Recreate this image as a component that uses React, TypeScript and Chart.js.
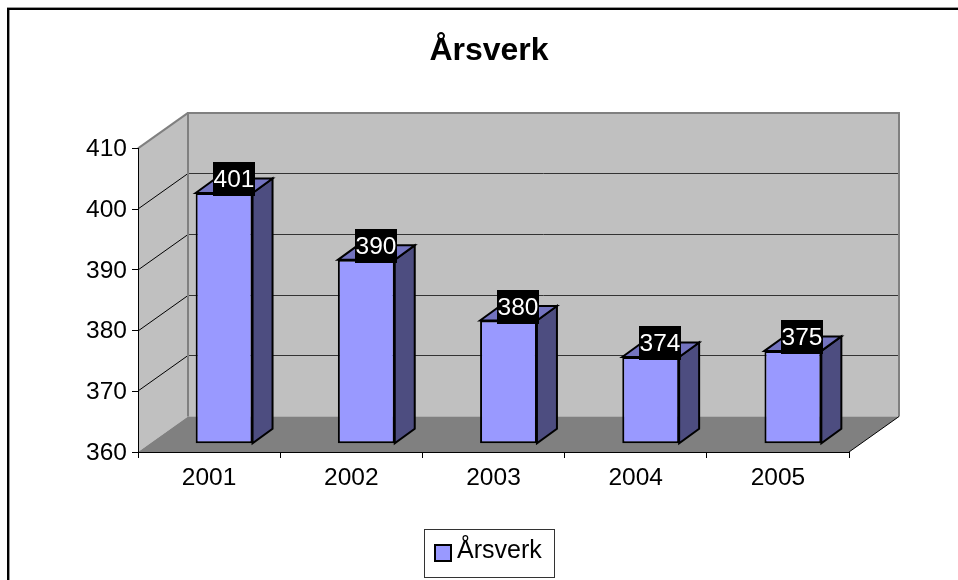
import React, { useEffect, useRef } from "react";
import { Chart, registerables } from "chart.js";

Chart.register(...registerables);

const categories = ["2001", "2002", "2003", "2004", "2005"];
const seriesName = "Årsverk";
const values = [401, 390, 380, 374, 375];
const axisMin = 360;
const axisMax = 410;
const axisStep = 10;
const barBase = 359.8;

const FONT = '"Liberation Sans", Arial, sans-serif';
const BAR = "#9999FF";
const BAR_SIDE = "#4D4D80";
const BAR_TOP = "#7373BF";
const WALL = "#C0C0C0";
const FLOOR = "#808080";

const WALL_DX = 50;
const WALL_DY = -35.5;
const BAR_DX = 15;
const BAR_DY = -10;
const SIDE_DX = 20;
const SIDE_DY = -14.5;

const poly = (ctx: CanvasRenderingContext2D, pts: number[][], fill: string | null, stroke: string | null, lw = 2) => {
  ctx.beginPath();
  pts.forEach((p, i) => (i ? ctx.lineTo(p[0], p[1]) : ctx.moveTo(p[0], p[1])));
  ctx.closePath();
  if (fill) {
    ctx.fillStyle = fill;
    ctx.fill();
  }
  if (stroke) {
    ctx.strokeStyle = stroke;
    ctx.lineWidth = lw;
    ctx.lineJoin = "miter";
    ctx.stroke();
  }
};

const line = (ctx: CanvasRenderingContext2D, x0: number, y0: number, x1: number, y1: number, color: string, lw: number) => {
  ctx.beginPath();
  ctx.moveTo(x0, y0);
  ctx.lineTo(x1, y1);
  ctx.strokeStyle = color;
  ctx.lineWidth = lw;
  ctx.stroke();
};

const box3d = {
  id: "box3d",
  beforeDraw(chart: any) {
    const { ctx, chartArea: a, scales } = chart;
    const y = scales.y;
    ctx.save();
    ctx.fillStyle = "#fff";
    ctx.fillRect(0, 0, chart.width, chart.height);
    // outer frame: only top and left edges fall inside the picture
    ctx.fillStyle = "#999";
    ctx.fillRect(7, 7, chart.width - 7, 1);
    ctx.fillRect(9, 10, 1, chart.height - 10);
    ctx.fillStyle = "#000";
    ctx.fillRect(7, 8, chart.width - 7, 2);
    ctx.fillRect(7, 8, 2, chart.height - 8);

    const l = a.left, r = a.right, t = a.top, b = a.bottom;
    // walls
    poly(ctx, [[l, t], [l + WALL_DX, t + WALL_DY], [l + WALL_DX, b + WALL_DY], [l, b]], WALL, null);
    poly(ctx, [[l + WALL_DX, t + WALL_DY], [r + WALL_DX, t + WALL_DY], [r + WALL_DX, b + WALL_DY], [l + WALL_DX, b + WALL_DY]], WALL, null);
    // gridlines follow the value scale across both walls
    for (let v = axisMin + axisStep; v < axisMax; v += axisStep) {
      const py = y.getPixelForValue(v);
      const by = Math.floor(py + WALL_DY) + 0.5;
      line(ctx, l, Math.round(py), l + WALL_DX, by, "#000", 1);
      line(ctx, l + WALL_DX, by, r + WALL_DX, by, "#333", 1);
    }
    // floor
    poly(ctx, [[l, b], [l + WALL_DX, b + WALL_DY], [r + WALL_DX, b + WALL_DY], [r, b]], FLOOR, null);
    // wall edges
    line(ctx, l, t, l + WALL_DX, t + WALL_DY, FLOOR, 2);
    line(ctx, l + WALL_DX - 1, t + WALL_DY, r + WALL_DX + 1, t + WALL_DY, FLOOR, 2);
    line(ctx, l + WALL_DX, t + WALL_DY, l + WALL_DX, b + WALL_DY, FLOOR, 2);
    line(ctx, r + WALL_DX, t + WALL_DY, r + WALL_DX, b + WALL_DY, FLOOR, 2);
    line(ctx, r, b, r + WALL_DX, b + WALL_DY, "#000", 1);
    ctx.restore();
  },
  beforeDatasetsDraw(chart: any) {
    const { ctx } = chart;
    ctx.save();
    chart.getDatasetMeta(0).data.forEach((bar: any) => {
      const p = bar.getProps(["x", "y", "base", "width"], true);
      const xl = p.x - p.width / 2 + BAR_DX;
      const xr = p.x + p.width / 2 + BAR_DX;
      const yt = p.y + BAR_DY;
      const yb = p.base + BAR_DY;
      poly(ctx, [[xr, yt], [xr + SIDE_DX, yt + SIDE_DY], [xr + SIDE_DX, yb + SIDE_DY], [xr, yb]], BAR_SIDE, "#000", 2);
      poly(ctx, [[xl, yt], [xl + SIDE_DX, yt + SIDE_DY], [xr + SIDE_DX, yt + SIDE_DY], [xr, yt]], BAR_TOP, "#000", 2);
    });
    ctx.restore();
  },
  beforeDatasetDraw(chart: any) {
    chart.ctx.save();
    chart.ctx.translate(BAR_DX, BAR_DY);
  },
  afterDatasetDraw(chart: any) {
    chart.ctx.restore();
  },
  afterDatasetsDraw(chart: any) {
    const { ctx } = chart;
    ctx.save();
    ctx.font = `24.5px ${FONT}`;
    ctx.textAlign = "center";
    ctx.textBaseline = "middle";
    chart.getDatasetMeta(0).data.forEach((bar: any, i: number) => {
      const p = bar.getProps(["x", "y"], true);
      const cx = Math.round(p.x + BAR_DX + 9.5);
      const cy = Math.round(p.y + BAR_DY - 14);
      ctx.fillStyle = "#000";
      ctx.fillRect(cx - 21, cy - 17, 42, 34);
      ctx.fillStyle = "#fff";
      ctx.fillText(String(values[i]), cx, cy + 1);
    });
    ctx.restore();
  },
  afterDraw(chart: any) {
    // legend box, centred under the plot like the title
    const { ctx } = chart;
    const left = 424, top = 529, w = 130, h = 48;
    ctx.save();
    ctx.fillStyle = "#fff";
    ctx.fillRect(left, top, w, h);
    ctx.strokeStyle = "#333";
    ctx.lineWidth = 1;
    ctx.strokeRect(left + 0.5, top + 0.5, w, h);
    ctx.fillStyle = BAR;
    ctx.fillRect(434, 544, 17, 17);
    ctx.strokeStyle = "#000";
    ctx.lineWidth = 2;
    ctx.strokeRect(435, 545, 16, 16);
    ctx.fillStyle = "#000";
    ctx.font = `25px ${FONT}`;
    ctx.textAlign = "left";
    ctx.textBaseline = "alphabetic";
    ctx.fillText(seriesName, 457, 558);
    ctx.restore();
  },
};

export default function App() {
  const ref = useRef<HTMLCanvasElement | null>(null);
  useEffect(() => {
    const chart = new Chart(ref.current as HTMLCanvasElement, {
      type: "bar",
      data: {
        labels: categories,
        datasets: [
          {
            label: seriesName,
            data: values,
            base: barBase,
            backgroundColor: BAR,
            borderColor: "#000",
            borderWidth: 2,
            borderSkipped: false,
            categoryPercentage: 1,
            barPercentage: 0.4,
            clip: false as any,
          },
        ],
      },
      options: {
        responsive: false,
        animation: false,
        layout: { padding: { left: 20, right: 0, top: 0, bottom: 0 } },
        plugins: {
          legend: { display: false },
          tooltip: { enabled: false },
          title: {
            display: true,
            text: seriesName,
            color: "#000",
            font: { family: FONT, size: 32, weight: "bold" },
            padding: { top: 32, bottom: 78 },
          },
        },
        scales: {
          x: {
            type: "category",
            afterFit: (s: any) => { s.height = 128; },
            border: { display: true, color: "#000", width: 1 },
            grid: { drawOnChartArea: false, drawTicks: true, tickLength: 6, color: "#000" },
            ticks: { color: "#000", font: { family: FONT, size: 24.5 }, padding: 6, maxRotation: 0 },
          },
          y: {
            type: "linear",
            min: axisMin,
            max: axisMax,
            afterFit: (s: any) => { s.width = 118; },
            border: { display: true, color: "#000", width: 1 },
            grid: { drawOnChartArea: false, drawTicks: true, tickLength: 6, color: "#000" },
            ticks: { stepSize: axisStep, color: "#000", font: { family: FONT, size: 24.5 }, padding: 5, labelOffset: 1 },
          },
          y1: {
            type: "linear",
            position: "right",
            display: true,
            min: axisMin,
            max: axisMax,
            afterFit: (s: any) => { s.width = 109; },
            border: { display: false },
            grid: { display: false },
            ticks: { display: false },
          },
        },
      },
      plugins: [box3d],
    } as any);
    return () => chart.destroy();
  }, []);
  return (
    <div style={{ position: "absolute", left: 0, top: 0, width: 958, height: 580 }}>
      <canvas ref={ref} width={958} height={580} style={{ display: "block" }} />
    </div>
  );
}
